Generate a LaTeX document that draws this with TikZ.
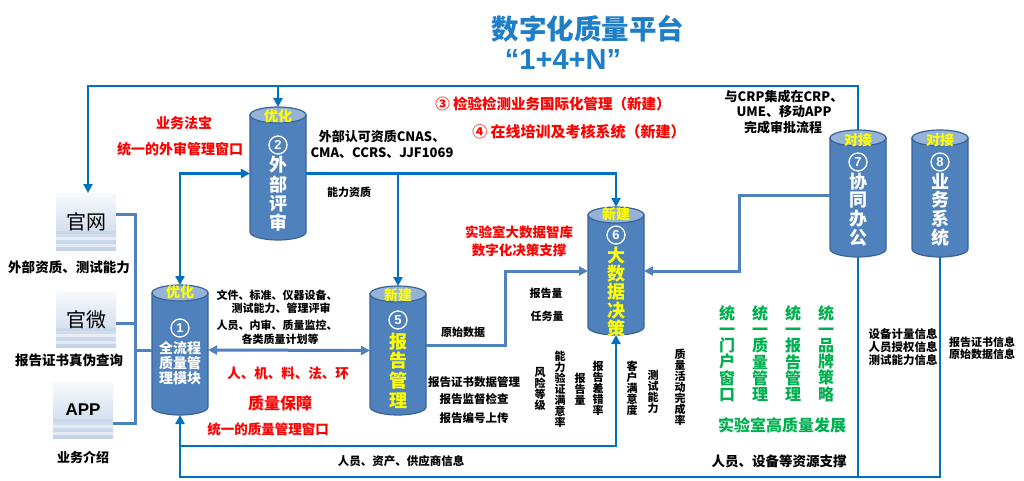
\documentclass[tikz,border=0pt]{standalone}
\usepackage{fontspec}
\setmainfont{Noto Sans CJK SC}
\newfontfamily\lat{Liberation Sans}
\usetikzlibrary{arrows.meta}
\definecolor{cylbody}{HTML}{4F81BD}
\definecolor{cyledge}{HTML}{3A6497}
\definecolor{cyltop}{HTML}{95B3D7}
\definecolor{brightblue}{HTML}{0070C0}
\definecolor{mutedblue}{HTML}{4F81BD}
\definecolor{titleblue}{HTML}{1E7EC8}
\definecolor{redtxt}{HTML}{FF0000}
\definecolor{greentxt}{HTML}{00B050}
\definecolor{boxtop}{HTML}{F7F9FC}
\definecolor{boxbot}{HTML}{C3D3E8}
\definecolor{yel}{HTML}{FFFF00}
\newcommand{\fs}[2]{\fontsize{#1}{#2}\selectfont}
\tikzset{arr/.tip={Triangle[length=9pt,width=9pt]}}
% cylinder: name, cx, top, bottom
\newcommand{\mycyl}[4]{%
  \filldraw[fill=cylbody,draw=cyledge,line width=1.2pt]
    (#2-28,#3+8) -- (#2-28,#4-8)
    .. controls (#2-28,#4-3.6) and (#2-15.5,#4) .. (#2,#4)
    .. controls (#2+15.5,#4) and (#2+28,#4-3.6) .. (#2+28,#4-8)
    -- (#2+28,#3+8) -- cycle;
  \filldraw[fill=cyltop,draw=cyledge,line width=1.2pt] (#2,#3+8) ellipse [x radius=28,y radius=8];
  \node[minimum width=56pt,minimum height={#4-#3},inner sep=0,outer sep=0] (#1) at (#2,{(#3+#4)/2}) {};
}
\newcommand{\cnum}[3]{\node[circle,draw=white,line width=1.3pt,minimum size=18pt,inner sep=0,text=white,font=\lat\bfseries\fs{13}{13}] (#1) at (#2) {#3};}
\begin{document}
\begin{tikzpicture}[x=1pt,y=-1pt,
  bright/.style={draw=brightblue,line width=2.4pt},
  muted/.style={draw=mutedblue,line width=3pt},
  thinb/.style={draw=brightblue,line width=2pt},
  lbl/.style={inner sep=0,outer sep=0,text=black,font=\bfseries\fs{11}{11}},
  lblm/.style={inner sep=0,outer sep=0,text=black,font=\bfseries\fs{13.5}{13.5}},
  redl/.style={inner sep=0,outer sep=0,text=redtxt,font=\bfseries\fs{13.5}{13.5}},
  vt/.style={inner sep=0,outer sep=0,text=black,align=center,font=\bfseries\fs{11}{11}},
  gv/.style={inner sep=0,outer sep=0,text=greentxt,align=center,font=\bfseries\fs{16}{16.2}},
  ctop/.style={inner sep=0,outer sep=0,text=yel,font=\bfseries\fs{14}{14}},
  lbox/.style={minimum width=60pt,inner sep=0,outer sep=0,top color=boxtop,bottom color=boxbot,text=black,font=\fs{20}{20}}
]
\useasboundingbox (0,0) rectangle (1024,481);
\fill[white] (0,0) rectangle (1024,481);

% title
\node[inner sep=0,text=titleblue,font=\bfseries\fs{27.5}{27.5}] (title) at (588,29) {数字化质量平台};
\node[inner sep=0,text=titleblue,font=\lat\bfseries\fs{29}{29}] (sub) at (563,60) {“1+4+N”};

% boxes
\node[lbox,minimum height=57pt] (gw) at (86,221.5) {官网};
\node[lbox,minimum height=55pt] (gwx) at (86,319.5) {官微};
\node[lbox,minimum height=56pt,font=\lat\bfseries\fs{17}{17}] (app) at (83,410) {APP};
\foreach \n in {gw,gwx,app}{
  \fill[white,opacity=0.5] ([yshift=3pt]\n.south west) rectangle ([yshift=6pt]\n.south east);
  \fill[white,opacity=0.5] ([yshift=10pt]\n.south west) rectangle ([yshift=13pt]\n.south east);
  \fill[boxbot,opacity=0.6] ([yshift=16pt]\n.south west) rectangle ([yshift=19pt]\n.south east);
}

% cylinders
\mycyl{c2}{278}{107}{240}
\mycyl{c1}{180}{285}{415}
\mycyl{c5}{398}{286}{415}
\mycyl{c6}{616}{207}{335}
\mycyl{c7}{858}{130}{257}
\mycyl{c8}{940}{130}{257}

% cylinder labels
\node[ctop] (c2top) at (278,116) {优化};
\cnum{c2n}{278,145}{2}
\node[inner sep=0,text=white,align=center,font=\bfseries\fs{18}{19.3}] (c2t) at (278,194) {外\\部\\评\\审};

\node[ctop] (c1top) at (180,292) {优化};
\cnum{c1n}{180,328}{1}
\node[inner sep=0,text=white,align=center,font=\bfseries\fs{14}{15}] (c1t) at (180,363) {全流程\\质量管\\理模块};

\node[ctop] (c5top) at (398,295) {新建};
\cnum{c5n}{398,320}{5}
\node[inner sep=0,text=yel,align=center,font=\bfseries\fs{18}{19.7}] (c5t) at (398,370.5) {报\\告\\管\\理};

\node[ctop] (c6top) at (616,214) {新建};
\cnum{c6n}{616,235}{6}
\node[inner sep=0,text=yel,align=center,font=\bfseries\fs{18}{18.25}] (c6t) at (616,292) {大\\数\\据\\决\\策};

\node[ctop] (c7top) at (858,140) {对接};
\cnum{c7n}{858,162}{7}
\node[inner sep=0,text=white,align=center,font=\bfseries\fs{18}{18.7}] (c7t) at (858,209.5) {协\\同\\办\\公};

\node[ctop] (c8top) at (940,140) {对接};
\cnum{c8n}{940,162}{8}
\node[inner sep=0,text=white,align=center,font=\bfseries\fs{18}{18.7}] (c8t) at (940,209.5) {业\\务\\系\\统};

% coordinates
\coordinate (tl) at (88,86);
\coordinate (m1) at (505,345);
\coordinate (m2) at (739,195);
\coordinate (b1) at (180,446);
\coordinate (b2) at (180,477);
\coordinate (v1) at (135,214);
\coordinate (v2) at (135,323);
\coordinate (v3) at (135,350);
\coordinate (v4) at (135,423);

% connectors
\draw[bright,-arr] (c7.north) |- (tl) -- (tl |- gw.north);
\draw[bright,-arr] (c2.north |- tl) -- (c2.north);
\draw[bright,arr-arr] (c2.west) -| (c1.north);
\draw[bright,-arr] (c2.east) -| (c6.north);
\draw[bright,-arr] (c5.north |- c2.east) -- (c5.north);
\draw[muted,arr-arr] (c1.east) -- (c5.west);
\draw[muted,-arr] (c5.east |- m1) -- (m1) |- (c6.west);
\draw[muted,-arr] (c7.west |- m2) -- (m2) |- (c6.east);
\draw[bright,arr-arr] (c1.south) -- (b1) -| (c6.south);
\draw[bright] (b1) -- (b2) -| (c8.south);
\draw[thinb] (c7.south) -- (c7.south |- b2);
\draw[muted] (gw.east |- v1) -- (v1) -- (v4) -- (app.east |- v4);
\draw[muted] (gwx.east |- v2) -- (v2);
\draw[muted] (v3) -- (c1.west);

% red texts
\node[redl,font=\bfseries\fs{14}{14}] (r1) at (184,123) {业务法宝};
\node[redl,font=\bfseries\fs{14}{14}] (r2) at (180,149) {统一的外审管理窗口};
\node[redl,font=\bfseries\fs{14.5}{14.5}] (r3) at (553,104) {③ 检验检测业务国际化管理（新建）};
\node[redl,font=\bfseries\fs{15}{15}] (r4) at (579,132) {④ 在线培训及考核系统（新建）};
\node[redl] (r5) at (519,232) {实验室大数据智库};
\node[redl] (r6) at (519,250) {数字化决策支撑};
\node[redl] (r7) at (288,373) {人、机、料、法、环};
\node[redl,font=\bfseries\fs{16}{16}] (r8) at (280,403) {质量保障};
\node[redl] (r9) at (268,429) {统一的质量管理窗口};

% black texts
\node[lblm,font=\bfseries\fs{13}{13}] (k01) at (784,97) {与CRP集成在CRP、};
\node[lblm,font=\bfseries\fs{13}{13}] (k02) at (784,112) {UME、移动APP};
\node[lblm,font=\bfseries\fs{13}{13}] (k03) at (783,128) {完成审批流程};
\node[lblm,font=\bfseries\fs{13}{13}] (k04) at (382,137) {外部认可资质CNAS、};
\node[lblm,font=\bfseries\fs{13}{13}] (k05) at (382,153) {CMA、CCRS、JJF1069};
\node[lbl] (k06) at (349,192) {能力资质};
\node[lblm] (k07) at (69,267) {外部资质、测试能力};
\node[lblm] (k08) at (69,360) {报告证书真伪查询};
\node[lblm,font=\bfseries\fs{13}{13}] (k09) at (83,457) {业务介绍};
\node[lbl] (k10) at (277,295) {文件、标准、仪器设备、};
\node[lbl] (k11) at (281,308) {测试能力、管理评审};
\node[lbl] (k12) at (277,325) {人员、内审、质量监控、};
\node[lbl] (k13) at (280,339) {各类质量计划等};
\node[lbl] (k14) at (546,293) {报告量};
\node[lbl] (k15) at (547,316) {任务量};
\node[lbl] (k16) at (463,332) {原始数据};
\node[lbl,font=\bfseries\fs{11.5}{11.5}] (k17) at (474,382) {报告证书数据管理};
\node[lbl,font=\bfseries\fs{11.5}{11.5}] (k18) at (474,399) {报告监督检查};
\node[lbl,font=\bfseries\fs{11.5}{11.5}] (k19) at (474,418) {报告编号上传};
\node[lbl,font=\bfseries\fs{11.5}{11.5}] (k20) at (401,461) {人员、资产、供应商信息};
\node[lblm] (k21) at (779,461) {人员、设备等资源支撑};
\node[lbl,font=\bfseries\fs{11.5}{11.5}] (k22) at (903,334) {设备计量信息};
\node[lbl,font=\bfseries\fs{11.5}{11.5}] (k23) at (903,347) {人员授权信息};
\node[lbl,font=\bfseries\fs{11.5}{11.5}] (k24) at (903,360) {测试能力信息};
\node[lbl] (k25) at (982,342) {报告证书信息};
\node[lbl] (k26) at (982,354) {原始数据信息};

% vertical black texts
\node[vt] (w1) at (540,389) {风\\险\\等\\级};
\node[vt] (w2) at (560,389) {能\\力\\验\\证\\满\\意\\率};
\node[vt] (w3) at (580,389) {报\\告\\量};
\node[vt] (w4) at (598,388) {报\\告\\差\\错\\率};
\node[vt] (w5) at (632,388) {客\\户\\满\\意\\度};
\node[vt] (w6) at (653,392) {测\\试\\能\\力};
\node[vt] (w7) at (680,387) {质\\量\\活\\动\\完\\成\\率};

% green texts
\node[gv] (g1) at (727,353.5) {统\\一\\门\\户\\窗\\口};
\node[gv] (g2) at (760,353.5) {统\\一\\质\\量\\管\\理};
\node[gv] (g3) at (793,353.5) {统\\一\\报\\告\\管\\理};
\node[gv] (g4) at (826,353.5) {统\\一\\品\\牌\\策\\略};
\node[inner sep=0,text=greentxt,font=\bfseries\fs{16}{16}] (g5) at (782,425) {实验室高质量发展};
\end{tikzpicture}
\end{document}
